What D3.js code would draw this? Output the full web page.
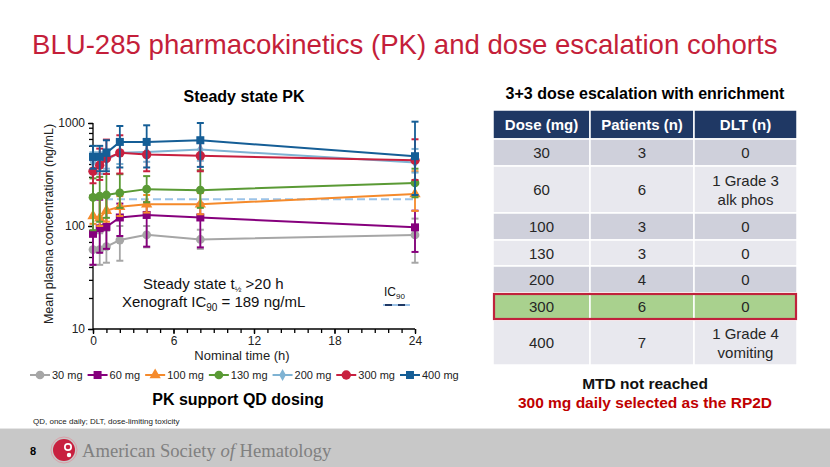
<!DOCTYPE html>
<html><head><meta charset="utf-8">
<script src="https://cdn.jsdelivr.net/npm/d3@7"></script>
<style>body{margin:0;background:#fff} svg{display:block;font-family:Arial,"Liberation Sans",sans-serif}</style>
</head><body><svg id="c" width="830" height="467"></svg>
<script>
// ---------- data ----------
const times = [0, 0.5, 1, 2, 4, 8, 24];
const doseLabels = ["30 mg", "60 mg", "100 mg", "130 mg", "200 mg", "300 mg", "400 mg"];
const mean30  = [59, 59, 63, 73, 82, 74, 82];
const hi30    = [80, 85, 90, 100, 100, 92, 118];
const lo30    = [42, 42, 44, 46, 62, 60, 44];
const mean60  = [84, 95, 98, 121, 128, 121, 97];
const hi60    = [120, 180, 200, 165, 170, 165, 141];
const lo60    = [42, 55, 60, 80, 63, 62, 56];
const mean100 = [125, 119, 141, 154, 163, 163, 204];
const hi100   = [195, 190, 200, 195, 200, 210, 340];
const lo100   = [105, 100, 110, 125, 135, 130, 140];
const mean130 = [190, 195, 200, 210, 228, 223, 262];
const hi130   = [290, 300, 320, 318, 305, 348, 360];
const lo130   = [91, 110, 120, 150, 170, 150, 190];
const mean200 = [420, 398, 441, 513, 524, 552, 413];
const hi200   = [520, 520, 560, 680, 700, 720, 560];
const lo200   = [330, 320, 360, 400, 420, 430, 330];
const mean300 = [340, 389, 452, 513, 494, 480, 435];
const hi300   = [440, 564, 690, 760, 690, 650, 695];
const lo300   = [260, 280, 320, 323, 340, 340, 280];
const mean400 = [469, 469, 513, 655, 655, 680, 476];
const hi400   = [600, 600, 680, 935, 950, 1000, 1030];
const lo400   = [360, 340, 340, 370, 370, 375, 200];
const ic90 = 182;
const yTicks = [10, 100, 1000];
const xTicks = [0, 6, 12, 18, 24];

const tableHeader = ["Dose (mg)", "Patients (n)", "DLT (n)"];
const tableDose = ["30", "60", "100", "130", "200", "300", "400"];
const tablePatients = ["3", "6", "3", "3", "4", "6", "7"];
const tableDLT = [["0"], ["1 Grade 3", "alk phos"], ["0"], ["0"], ["0"], ["0"], ["1 Grade 4", "vomiting"]];

// ---------- styles ----------
const colors = ["#a6a6a6", "#86007d", "#f58a2b", "#5a9a35", "#7fb3d3", "#c8203f", "#155e96"];
const shapes = [d3.symbolCircle, d3.symbolSquare, d3.symbolTriangle, d3.symbolCircle, d3.symbolDiamond, d3.symbolCircle, d3.symbolSquare];
const sizes = [60, 64, 55, 60, 40, 70, 64];
const means = [mean30, mean60, mean100, mean130, mean200, mean300, mean400];
const his = [hi30, hi60, hi100, hi130, hi200, hi300, hi400];
const los = [lo30, lo60, lo100, lo130, lo200, lo300, lo400];

const svg = d3.select("#c");
const red = "#c41e3a";

// title
svg.append("text").attr("x", 32).attr("y", 54).attr("fill", red)
  .style("font-size", "27.6px").text("BLU-285 pharmacokinetics (PK) and dose escalation cohorts");

// ---------- chart ----------
const x = d3.scaleLinear().domain([0, 24]).range([93, 415]);
const y = d3.scaleLog().domain([10, 1000]).range([329, 123]);

svg.append("text").attr("x", 244).attr("y", 102).attr("text-anchor", "middle")
  .style("font-size", "16px").style("font-weight", "bold").text("Steady state PK");

// y axis
const yMinor = [];
for (let d = 10; d < 1000; d *= 10) for (let k = 1; k < 10; k++) yMinor.push(d * k);
yMinor.push(1000);
const yAx = svg.append("g").attr("transform", "translate(93,0)")
  .call(d3.axisLeft(y).tickValues(yMinor).tickSize(4).tickFormat(""));
const yAx2 = svg.append("g").attr("transform", "translate(93,0)")
  .call(d3.axisLeft(y).tickValues(yTicks).tickSize(5).tickPadding(3).tickFormat(d3.format("d")));
[yAx, yAx2].forEach(g => { g.selectAll("path,line").attr("stroke", "#000").attr("stroke-width", 1.3); });
yAx2.selectAll("text").style("font-size", "12px").attr("fill", "#222");
yAx.select(".domain").attr("d", `M0,${y(10)}V${y(1000)}`);
yAx2.select(".domain").remove();

// x axis
const xAx = svg.append("g").attr("transform", "translate(0,329)")
  .call(d3.axisBottom(x).tickValues(d3.range(0, 25)).tickSize(4).tickFormat(""));
const xAx2 = svg.append("g").attr("transform", "translate(0,329)")
  .call(d3.axisBottom(x).tickValues(xTicks).tickSize(5).tickPadding(2));
[xAx, xAx2].forEach(g => { g.selectAll("path,line").attr("stroke", "#000").attr("stroke-width", 1.3); });
xAx.select(".domain").attr("d", `M${x(0)},0H${x(24)}`);
xAx2.select(".domain").remove();
xAx2.selectAll("text").style("font-size", "12px").attr("fill", "#222");

svg.append("text").attr("transform", "translate(53,224) rotate(-90)").attr("text-anchor", "middle")
  .style("font-size", "12.5px").attr("fill", "#222").text("Mean plasma concentration (ng/mL)");
svg.append("text").attr("x", 242).attr("y", 360).attr("text-anchor", "middle")
  .style("font-size", "13px").attr("fill", "#222").text("Nominal time (h)");

// IC90 line
svg.append("line").attr("x1", x(0)).attr("x2", x(24)).attr("y1", y(ic90)).attr("y2", y(ic90))
  .attr("stroke", "#9cc3e8").attr("stroke-width", 2).attr("stroke-dasharray", "8,4");

// series
const line = d3.line().x((d, i) => x(times[i])).y(d => y(d));
means.forEach((m, s) => {
  const g = svg.append("g");
  const c = colors[s];
  times.forEach((t, i) => {
    const xx = x(t);
    g.append("line").attr("x1", xx).attr("x2", xx).attr("y1", y(los[s][i])).attr("y2", y(his[s][i]))
      .attr("stroke", c).attr("stroke-width", 1.8);
    [los[s][i], his[s][i]].forEach(v => g.append("line").attr("x1", xx - 3.5).attr("x2", xx + 3.5)
      .attr("y1", y(v)).attr("y2", y(v)).attr("stroke", c).attr("stroke-width", 2));
  });
  g.append("path").attr("d", line(m)).attr("fill", "none").attr("stroke", c).attr("stroke-width", 2);
  g.selectAll("path.m").data(m).join("path").attr("class", "m")
    .attr("transform", (d, i) => `translate(${x(times[i])},${y(d)})`)
    .attr("d", d3.symbol().type(shapes[s]).size(sizes[s])).attr("fill", c);
});

// annotations inside plot
const ann1 = svg.append("text").attr("x", 143).attr("y", 289).style("font-size", "15px").attr("fill", "#111");
ann1.append("tspan").text("Steady state t");
ann1.append("tspan").style("font-size", "8px").attr("dy", 3).text("½");
ann1.append("tspan").attr("dy", -3).text(" >20 h");
const ann2 = svg.append("text").attr("x", 122).attr("y", 307).style("font-size", "15px").attr("fill", "#111");
ann2.append("tspan").text("Xenograft IC");
ann2.append("tspan").style("font-size", "10px").attr("dy", 4).text("90");
ann2.append("tspan").attr("dy", -4).text(" = 189 ng/mL");

const icl = svg.append("text").attr("x", 384).attr("y", 296).style("font-size", "12px").attr("fill", "#111");
icl.append("tspan").text("IC");
icl.append("tspan").style("font-size", "8px").attr("dy", 3).text("90");
svg.append("line").attr("x1", 383).attr("x2", 410).attr("y1", 305).attr("y2", 305)
  .attr("stroke", "#9cc3e8").attr("stroke-width", 2);
svg.append("line").attr("x1", 385).attr("x2", 410).attr("y1", 305).attr("y2", 305)
  .attr("stroke", "#1f3864").attr("stroke-width", 2).attr("stroke-dasharray", "7,6");

// legend
let lx = 30;
doseLabels.forEach((lab, s) => {
  const g = svg.append("g");
  g.append("line").attr("x1", lx).attr("x2", lx + 20).attr("y1", 375).attr("y2", 375)
    .attr("stroke", colors[s]).attr("stroke-width", 2);
  g.append("path").attr("transform", `translate(${lx + 10},375)`)
    .attr("d", d3.symbol().type(shapes[s]).size(sizes[s])).attr("fill", colors[s]);
  const t = g.append("text").attr("x", lx + 22).attr("y", 379).style("font-size", "11px").attr("fill", "#222").text(lab);
  lx += 22 + t.node().getComputedTextLength() + 5;
});

svg.append("text").attr("x", 238).attr("y", 405).attr("text-anchor", "middle")
  .style("font-size", "16px").style("font-weight", "bold").text("PK support QD dosing");
svg.append("text").attr("x", 33).attr("y", 424).style("font-size", "8px").attr("fill", "#222")
  .text("QD, once daily; DLT, dose-limiting toxicity");

// ---------- table ----------
svg.append("text").attr("x", 645).attr("y", 99).attr("text-anchor", "middle")
  .style("font-size", "16px").style("font-weight", "bold").text("3+3 dose escalation with enrichment");
const colX = [493, 590, 694, 797];
const rowY = [110, 139, 166, 213, 240, 266, 293, 320, 365];
const rowFill = ["#cfd0db", "#e8e8ee", "#cfd0db", "#e8e8ee", "#cfd0db", "#a9d18e", "#e8e8ee"];
const tg = svg.append("g");
for (let c = 0; c < 3; c++) {
  tg.append("rect").attr("x", colX[c]).attr("y", rowY[0]).attr("width", colX[c + 1] - colX[c]).attr("height", rowY[1] - rowY[0])
    .attr("fill", "#1f3864").attr("stroke", "#fff").attr("stroke-width", 1.5);
  tg.append("text").attr("x", (colX[c] + colX[c + 1]) / 2).attr("y", (rowY[0] + rowY[1]) / 2 + 5.5)
    .attr("text-anchor", "middle").attr("fill", "#fff").style("font-size", "15px").style("font-weight", "bold").text(tableHeader[c]);
}
tableDose.forEach((d, r) => {
  const cells = [[d], [tablePatients[r]], tableDLT[r]];
  const y0 = rowY[r + 1], y1 = rowY[r + 2];
  cells.forEach((lines, c) => {
    tg.append("rect").attr("x", colX[c]).attr("y", y0).attr("width", colX[c + 1] - colX[c]).attr("height", y1 - y0)
      .attr("fill", rowFill[r]).attr("stroke", "#fff").attr("stroke-width", 1.5);
    const cy = (y0 + y1) / 2;
    lines.forEach((ln, k) => {
      tg.append("text").attr("x", (colX[c] + colX[c + 1]) / 2)
        .attr("y", cy + 5.5 + (k - (lines.length - 1) / 2) * 19)
        .attr("text-anchor", "middle").attr("fill", "#262626").style("font-size", "15px").text(ln);
    });
  });
});
tg.append("rect").attr("x", colX[0] + 1).attr("y", rowY[6] + 1).attr("width", colX[3] - colX[0] - 2).attr("height", rowY[7] - rowY[6] - 2)
  .attr("fill", "none").attr("stroke", "#c0223c").attr("stroke-width", 2.2);

svg.append("text").attr("x", 645).attr("y", 389).attr("text-anchor", "middle")
  .style("font-size", "15.5px").style("font-weight", "bold").attr("fill", "#111").text("MTD not reached");
svg.append("text").attr("x", 645).attr("y", 408).attr("text-anchor", "middle")
  .style("font-size", "15.5px").style("font-weight", "bold").attr("fill", "#c00000").text("300 mg daily selected as the RP2D");

// ---------- footer ----------
svg.append("rect").attr("x", 0).attr("y", 429).attr("width", 830).attr("height", 38).attr("fill", "#c8c8c8");
svg.append("line").attr("x1", 0).attr("x2", 830).attr("y1", 428.5).attr("y2", 428.5).attr("stroke", "#e6e6e6");
svg.append("text").attr("x", 30).attr("y", 455).style("font-size", "11px").style("font-weight", "bold").text("8");
const logo = svg.append("g").attr("transform", "translate(64,450)");
logo.append("circle").attr("r", 13).attr("fill", "none").attr("stroke", "#d9a0a8").attr("stroke-width", 1);
logo.append("circle").attr("r", 11).attr("fill", "#c8203f");
logo.append("circle").attr("cx", 4).attr("cy", -3).attr("r", 4).attr("fill", "#fff");
logo.append("circle").attr("cx", 4).attr("cy", -3).attr("r", 2.3).attr("fill", "#c8203f");
logo.append("circle").attr("cx", 5).attr("cy", 5).attr("r", 2.2).attr("fill", "#fff");
const asn = svg.append("text").attr("x", 82).attr("y", 457).attr("fill", "#808080")
  .style("font-family", "'Liberation Serif','DejaVu Serif',serif").style("font-size", "18.6px");
asn.append("tspan").text("American Society ");
asn.append("tspan").style("font-style", "italic").text("of");
asn.append("tspan").text(" Hematology");
</script></body></html>
